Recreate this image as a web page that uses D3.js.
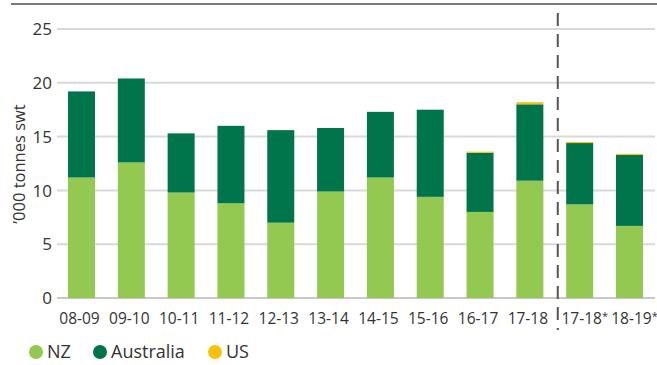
<!DOCTYPE html>
<html>
<head>
<meta charset="utf-8">
<script src="https://cdn.jsdelivr.net/npm/d3@7"></script>
<style>
  html, body { margin: 0; padding: 0; background: #fff; }
  svg { display: block; font-family: "Open Sans", Lato, sans-serif; }
</style>
</head>
<body>
<svg id="chart" width="657" height="365"></svg>
<script>
// Seasons (the last two are forecast years, marked with *)
const categories = ["08-09", "09-10", "10-11", "11-12", "12-13", "13-14", "14-15", "15-16", "16-17", "17-18", "17-18*", "18-19*"];
// Exports by destination, '000 tonnes swt
const nzValues        = [11.2, 12.6, 9.8, 8.8, 7.0, 9.9, 11.2, 9.4, 8.0, 10.9, 8.7, 6.7];
const australiaValues = [8.0, 7.8, 5.5, 7.2, 8.6, 5.9, 6.1, 8.1, 5.5, 7.1, 5.7, 6.6];
const usValues        = [0, 0, 0, 0, 0, 0, 0, 0, 0.1, 0.2, 0.1, 0.1];
const yTicks = [0, 5, 10, 15, 20, 25];

const seriesNames = ["NZ", "Australia", "US"];
const colors = { "NZ": "#93c851", "Australia": "#00744a", "US": "#f7c10c" };

const svg = d3.select("#chart");

const rows = categories.map((c, i) => ({ cat: c, NZ: nzValues[i], Australia: australiaValues[i], US: usValues[i] }));
const stacked = d3.stack().keys(seriesNames)(rows);

const x = d3.scaleBand().domain(categories).range([68, 643]).paddingInner(0.458).paddingOuter(0);
const y = d3.scaleLinear().domain([0, 25]).range([298, 29]);

const gridLeft = 57, gridRight = 655;

// top rule
svg.append("line").attr("x1", 11).attr("x2", 657).attr("y1", 4).attr("y2", 4)
  .attr("stroke", "#7a7a7a").attr("stroke-width", 2);

// gridlines
svg.append("g").selectAll("line").data(yTicks).join("line")
  .attr("x1", gridLeft).attr("x2", gridRight)
  .attr("y1", d => y(d)).attr("y2", d => y(d))
  .attr("stroke", d => d === 0 ? "#c8c8c8" : "#d9d9d9").attr("stroke-width", 2);

// y tick labels
svg.append("g").selectAll("text").data(yTicks).join("text")
  .attr("x", 52).attr("y", d => y(d)).attr("dy", "0.36em")
  .attr("text-anchor", "end").attr("font-size", 17).attr("fill", "#333")
  .text(d => d);

// y axis title
svg.append("text")
  .attr("transform", `translate(25,164) rotate(-90)`)
  .attr("text-anchor", "middle").attr("font-size", 16.5).attr("fill", "#333")
  .text("’000 tonnes swt");

// stacked bars
svg.append("g").selectAll("g").data(stacked).join("g")
  .attr("fill", s => colors[s.key])
  .selectAll("rect").data(s => s.filter(d => d[1] > d[0])).join("rect")
  .attr("x", d => x(d.data.cat))
  .attr("width", x.bandwidth())
  .attr("y", d => y(d[1]))
  .attr("height", d => y(d[0]) - y(d[1]));

// x labels
const xl = svg.append("g").selectAll("text").data(categories).join("text")
  .attr("x", d => x(d) + x.bandwidth() / 2 + (d.endsWith("*") ? 5 : -2))
  .attr("y", 324).attr("text-anchor", "middle")
  .attr("font-size", 15.5).attr("fill", "#333");
xl.append("tspan").text(d => d.replace("*", ""));
xl.filter(d => d.endsWith("*")).append("tspan")
  .attr("font-size", 11).attr("dy", -4).text("*");

// forecast divider
const divX = (x("17-18") + x.bandwidth() + x("17-18*")) / 2 + 3;
svg.append("line").attr("x1", divX).attr("x2", divX).attr("y1", 13).attr("y2", 330)
  .attr("stroke", "#555").attr("stroke-width", 2).attr("stroke-dasharray", "13,8");

// legend
const legendX = [36, 100, 215];
const lg = svg.append("g").selectAll("g").data(seriesNames).join("g")
  .attr("transform", (d, i) => `translate(${legendX[i]},352)`);
lg.append("circle").attr("r", 7).attr("fill", d => colors[d]);
lg.append("text").attr("x", 11).attr("dy", "0.36em").attr("font-size", 18).attr("fill", "#333").text(d => d);
</script>
</body>
</html>
